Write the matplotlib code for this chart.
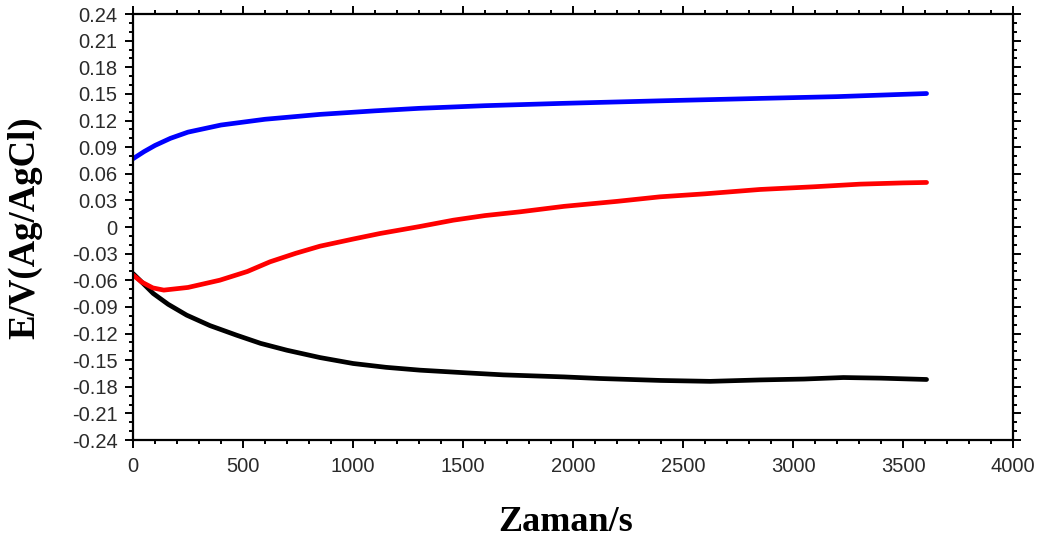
import matplotlib.pyplot as plt
from matplotlib.ticker import MultipleLocator

# time (s) and potential (V vs Ag/AgCl) for the three samples
t_blue = [0, 25, 50, 100, 170, 250, 400, 600, 850, 1100, 1300, 1600, 1950, 2400, 2850, 3200, 3607]
e_blue = [0.077, 0.081, 0.085, 0.092, 0.100, 0.107, 0.115, 0.1215, 0.127, 0.131, 0.1338, 0.1368,
          0.1394, 0.1423, 0.145, 0.147, 0.1505]

t_red = [0, 40, 90, 140, 250, 395, 520, 623, 740, 850, 1000, 1123, 1300, 1456, 1600, 1759, 1960,
         2200, 2395, 2600, 2850, 3100, 3305, 3500, 3607]
e_red = [-0.054, -0.062, -0.0685, -0.071, -0.068, -0.0598, -0.050, -0.0391, -0.0295, -0.0215,
         -0.0135, -0.0072, 0.0005, 0.0078, 0.013, 0.0172, 0.0234, 0.029, 0.0341, 0.0375, 0.0424,
         0.0455, 0.0484, 0.0498, 0.0503]

t_black = [0, 40, 92, 160, 244, 350, 471, 580, 699, 850, 1001, 1150, 1305, 1500, 1683, 1960,
           2123, 2400, 2623, 2850, 3050, 3229, 3400, 3607]
e_black = [-0.0523, -0.062, -0.0748, -0.087, -0.0992, -0.111, -0.1218, -0.131, -0.1387, -0.147,
           -0.1537, -0.158, -0.1612, -0.164, -0.1665, -0.1688, -0.1706, -0.1728, -0.1738, -0.1722,
           -0.1712, -0.1695, -0.1702, -0.1717]

y_ticks = [i * 0.03 for i in range(-8, 9)]

fig = plt.figure(figsize=(10.39, 5.42), dpi=100)
ax = fig.add_axes([0.128, 0.188, 0.847, 0.786])

ax.plot(t_blue, e_blue, color='#0000ff', lw=3.4, solid_capstyle='round')
ax.plot(t_black, e_black, color='black', lw=3.4, solid_capstyle='round')
ax.plot(t_red, e_red, color='#ff0000', lw=3.4, solid_capstyle='round')

ax.set_xlim(0, 4000)
ax.set_ylim(-0.24, 0.24)
ax.xaxis.set_major_locator(MultipleLocator(500))
ax.xaxis.set_minor_locator(MultipleLocator(100))
ax.yaxis.set_minor_locator(MultipleLocator(0.01))

ylabels = []
for v in y_ticks:
    s = '%.2f' % v
    if abs(v) < 1e-9:
        s = '0'
    ylabels.append(s)
ax.set_yticks(y_ticks)
ax.set_yticklabels(ylabels)

for sp in ax.spines.values():
    sp.set_linewidth(1.6)

ax.tick_params(which='both', direction='out', top=True, right=True, width=1.4,
               labelsize=14.5, colors='black', labelcolor='#2a2a2a')
ax.tick_params(which='major', length=6)
ax.tick_params(which='minor', length=3)
ax.tick_params(axis='x', pad=6)
ax.tick_params(axis='y', pad=5)
for lab in ax.get_xticklabels() + ax.get_yticklabels():
    lab.set_family('Liberation Sans')

fig.text(0.544, 0.036, 'Zaman/s', family='Liberation Serif', weight='bold',
         fontsize=26, ha='center', va='center')
fig.text(0.024, 0.58, 'E/V(Ag/AgCl)', family='Liberation Serif', weight='bold',
         fontsize=26.5, ha='center', va='center', rotation=90)

fig.savefig('out.png', dpi=100)
